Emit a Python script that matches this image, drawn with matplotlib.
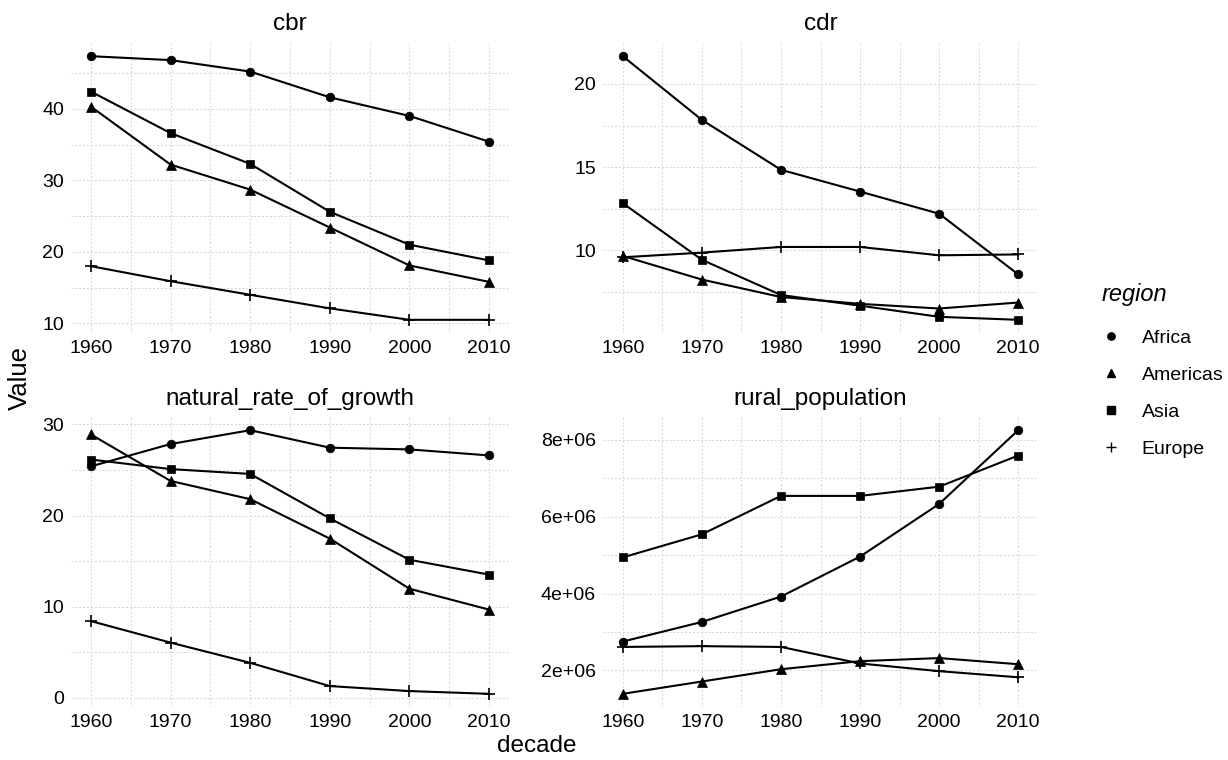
import numpy as np
import matplotlib.pyplot as plt
from matplotlib.ticker import MultipleLocator, FuncFormatter
from matplotlib.lines import Line2D

plt.rcParams['font.family'] = ['Liberation Sans', 'DejaVu Sans']

### data
decades = [1960, 1970, 1980, 1990, 2000, 2010]
regions = ["Africa", "Americas", "Asia", "Europe"]

cbr_africa = [47.35, 46.8, 45.2, 41.6, 39.0, 35.4]
cbr_americas = [40.3, 32.2, 28.7, 23.4, 18.1, 15.8]
cbr_asia = [42.4, 36.6, 32.3, 25.6, 21.0, 18.8]
cbr_europe = [18.0, 15.9, 14.0, 12.1, 10.5, 10.5]

cdr_africa = [21.67, 17.84, 14.84, 13.53, 12.2, 8.55]
cdr_americas = [9.66, 8.24, 7.19, 6.78, 6.5, 6.86]
cdr_asia = [12.83, 9.43, 7.31, 6.67, 6.0, 5.82]
cdr_europe = [9.58, 9.86, 10.2, 10.2, 9.7, 9.75]

nrg_africa = [25.4, 27.85, 29.37, 27.45, 27.26, 26.6]
nrg_americas = [28.9, 23.8, 21.8, 17.47, 11.97, 9.68]
nrg_asia = [26.15, 25.1, 24.57, 19.69, 15.15, 13.52]
nrg_europe = [8.42, 6.06, 3.84, 1.29, 0.74, 0.44]

rural_africa = [2.75e6, 3.26e6, 3.92e6, 4.96e6, 6.33e6, 8.25e6]
rural_americas = [1.39e6, 1.71e6, 2.03e6, 2.24e6, 2.32e6, 2.16e6]
rural_asia = [4.94e6, 5.54e6, 6.54e6, 6.54e6, 6.78e6, 7.59e6]
rural_europe = [2.61e6, 2.63e6, 2.61e6, 2.18e6, 1.98e6, 1.82e6]

panels = [
    ("cbr", [cbr_africa, cbr_americas, cbr_asia, cbr_europe], 10, 5),
    ("cdr", [cdr_africa, cdr_americas, cdr_asia, cdr_europe], 5, 2.5),
    ("natural_rate_of_growth", [nrg_africa, nrg_americas, nrg_asia, nrg_europe], 10, 5),
    ("rural_population", [rural_africa, rural_americas, rural_asia, rural_europe], 2e6, 1e6),
]

markers = {"Africa": ("o", 6.2), "Americas": ("^", 7.2), "Asia": ("s", 6.4), "Europe": ("+", 9)}

W, H = 1228, 760
# panel boxes in pixels: left, top, right, bottom
boxes = [(71, 43, 509, 333), (603, 43, 1038, 333),
         (71, 417, 509, 707), (603, 417, 1038, 707)]

fig = plt.figure(figsize=(W / 100, H / 100), dpi=100)
fig.patch.set_facecolor("white")

grid_kw = dict(color="#d6d6d6", linestyle=(0, (2, 2)), linewidth=0.7)


def sci_fmt(v, pos):
    return "{:.0e}".format(v)


for (title, series, major, minor), (l, t, r, b) in zip(panels, boxes):
    ax = fig.add_axes([l / W, 1 - b / H, (r - l) / W, (b - t) / H])
    for name, vals in zip(regions, series):
        m, ms = markers[name]
        ax.plot(decades, vals, color="black", lw=1.5, marker=m, ms=ms,
                mew=1.2 if m == "+" else 0.5, zorder=3)
    ax.set_xlim(1957.5, 2012.5)
    ax.margins(y=0.05)
    ax.set_xticks(decades)
    ax.xaxis.set_minor_locator(MultipleLocator(5))
    ax.yaxis.set_major_locator(MultipleLocator(major))
    ax.yaxis.set_minor_locator(MultipleLocator(minor))
    if title == "rural_population":
        ax.yaxis.set_major_formatter(FuncFormatter(sci_fmt))
    ax.grid(True, which="both", **grid_kw)
    ax.set_axisbelow(True)
    for sp in ax.spines.values():
        sp.set_visible(False)
    ax.tick_params(which="both", length=0, labelsize=14, colors="black", pad=5)
    ax.set_title(title, fontsize=17.5, pad=9)

fig.text(20 / W, 1 - 378 / H, "Value", rotation=90, fontsize=18.5,
         ha="center", va="center")
fig.text(537 / W, 1 - 746 / H, "decade", fontsize=17.5, ha="center", va="center")

handles = [Line2D([], [], color="black", lw=0, marker=markers[n][0],
                  ms=markers[n][1] * 0.85, mew=1.0) for n in regions]
leg = fig.legend(handles, regions, loc="upper left",
                 bbox_to_anchor=(1084 / W, 1 - 265 / H), frameon=False,
                 fontsize=14, title="region", title_fontsize=17,
                 labelspacing=1.0, handlelength=1.0, handletextpad=1.06,
                 alignment="left")
leg.get_title().set_fontstyle("italic")
# a bit more room between the legend title and the keys
leg._legend_box.sep = 17

fig.savefig("out.png", dpi=100)
